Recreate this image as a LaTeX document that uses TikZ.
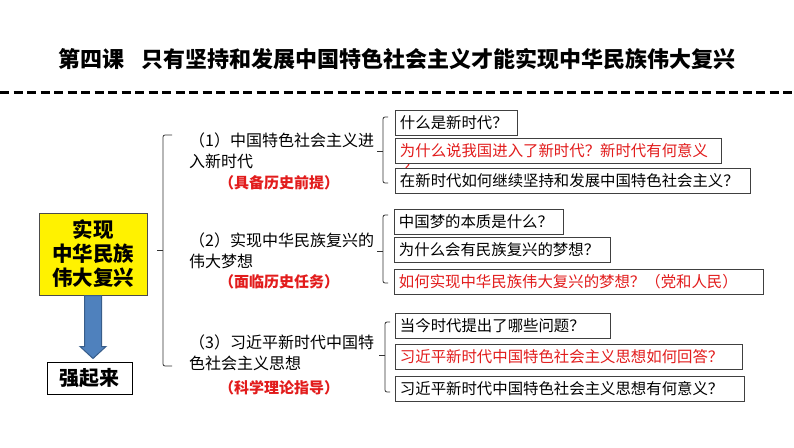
\documentclass[tikz,border=0pt]{standalone}
\usepackage{fontspec}
\newfontfamily\cjk{Noto Sans CJK SC}
\usetikzlibrary{calc, positioning}

\definecolor{hired}{RGB}{226,28,28}
\definecolor{arrowfill}{RGB}{79,129,189}
\definecolor{arrowline}{RGB}{56,93,138}

\tikzset{
  qbox/.style={draw=black!75, line width=0.9pt, fill=white, anchor=west, align=left,
    inner xsep=4.5pt, inner ysep=0pt, minimum height=25pt,
    font=\cjk\fontsize{15.4pt}{18pt}\selectfont},
  redq/.style={qbox, text=hired},
  mid/.style={anchor=west, align=left, inner sep=0pt, font=\cjk\fontsize{16pt}{21pt}\selectfont},
  tag/.style={inner sep=0pt, text=hired, font=\cjk\bfseries\fontsize{15pt}{17pt}\selectfont},
  brace/.style={draw=black!80, line width=0.8pt, rounded corners=2pt}
}

\begin{document}
\begin{tikzpicture}[x=1pt, y=-1pt]
\useasboundingbox (0,0) rectangle (794,447);

%% title
\node[font=\cjk\bfseries\fontsize{22pt}{24pt}\selectfont] (title) at (397,59)
  {第四课\hspace{0.8em}只有坚持和发展中国特色社会主义才能实现中华民族伟大复兴};
\draw[line width=3pt, dash pattern=on 9pt off 4.5pt] (0,92) -- (794,92);

%% left side
\node[fill=yellow, draw=black!70, line width=1pt, minimum width=108pt, minimum height=82pt,
  inner sep=0pt, align=center, font=\cjk\bfseries\fontsize{20.5pt}{24pt}\selectfont]
  (goal) at (93,254) {实现\\中华民族\\伟大复兴};
\node[draw=black, line width=1pt, minimum width=85pt, minimum height=32pt, inner sep=0pt,
  font=\cjk\bfseries\fontsize{20pt}{22pt}\selectfont] (strong) at (89.5,378) {强起来};

\path (goal.south) coordinate (atop) (goal.south |- strong.north) coordinate (atip);
\draw[fill=arrowfill, draw=arrowline, line width=1pt]
  ([xshift=-8.5pt]atop) -- ([xshift=8.5pt]atop) -- ([xshift=8.5pt,yshift=15pt]atip)
  -- ([xshift=13pt,yshift=15pt]atip) -- ([yshift=3pt]atip)
  -- ([xshift=-13pt,yshift=15pt]atip) -- ([xshift=-8.5pt,yshift=15pt]atip) -- cycle;

%% big bracket
\draw[brace] (172,135) -- (163,135) -- (163,366) -- (172,366);
\draw[brace] (163,250) -- (157,250);

%% middle column
\node[mid] (m1) at (189,151) {（1）中国特色社会主义进\\入新时代};
\node[tag] (t1) at (279,183) {（具备历史前提）};
\node[mid] (m2) at (189,251) {（2）实现中华民族复兴的\\伟大梦想};
\node[tag] (t2) at (279,282) {（面临历史任务）};
\node[mid] (m3) at (189,353) {（3）习近平新时代中国特\\色社会主义思想};
\node[tag] (t3) at (279,388) {（科学理论指导）};

%% group brackets
\draw[brace] (388,117) -- (383,117) -- (383,183) -- (388,183);
\draw[brace] (383,151) -- (377,151);
\draw[brace] (388,215) -- (383,215) -- (383,283) -- (388,283);
\draw[brace] (383,251) -- (377,251);
\draw[brace] (390,322) -- (385,322) -- (385,392) -- (390,392);
\draw[brace] (385,355) -- (379,355);

%% questions
\node[qbox, text width=113pt] (q1) at (395,122.5) {什么是新时代？};
\node[inner sep=0pt, text=hired, font=\cjk\fontsize{15.4pt}{18pt}\selectfont] (q2tail) at (410,168) {？};
\node[redq, text width=317pt] (q2) at (395,150.5) {为什么说我国进入了新时代？新时代有何意义};
\node[qbox, text width=346pt] (q3) at (395,180.5) {在新时代如何继续坚持和发展中国特色社会主义？};

\node[qbox, text width=160pt] (q4) at (394,221.5) {中国梦的本质是什么？};
\node[qbox, text width=207pt] (q5) at (394,250) {为什么会有民族复兴的梦想？};
\node[redq, text width=360pt] (q6) at (394,281.5) {如何实现中华民族伟大复兴的梦想？（党和人民）};

\node[qbox, text width=206pt] (q7) at (395,326) {当今时代提出了哪些问题？};
\node[redq, text width=338pt] (q8) at (395,356.5) {习近平新时代中国特色社会主义思想如何回答？};
\node[qbox, text width=340pt] (q9) at (395,389) {习近平新时代中国特色社会主义思想有何意义？};

\end{tikzpicture}
\end{document}
